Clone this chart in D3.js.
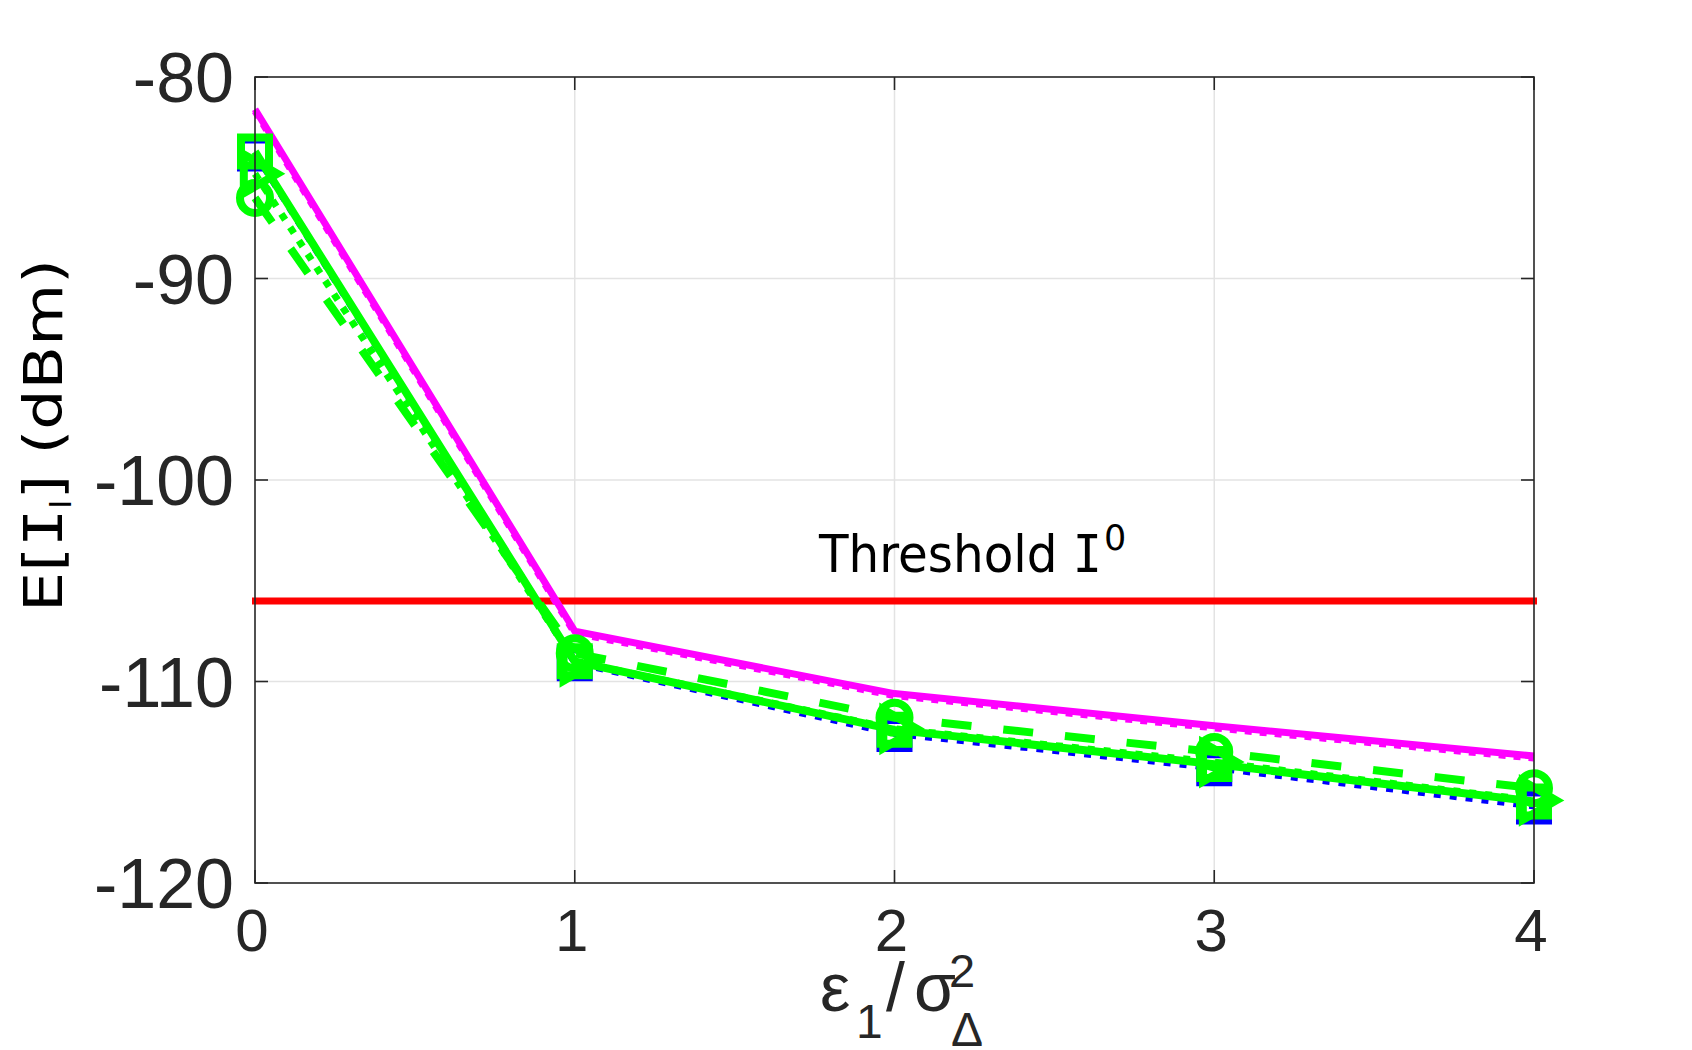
<!DOCTYPE html>
<html>
<head>
<meta charset="utf-8">
<script src="https://d3js.org/d3.v7.min.js"></script>
<style>
body { margin: 0; background: #fff; }
</style>
</head>
<body>
<svg id="chart" width="1692" height="1050"></svg>
<script>
// data
const xVals = [0, 1, 2, 3, 4];
const xTicks = [0, 1, 2, 3, 4];
const yTicks = [-120, -110, -100, -90, -80];
const threshold = -106;

const magentaSolid  = [-81.6, -107.5, -110.6, -112.2, -113.7];
const magentaDotted = [-81.7, -107.6, -110.7, -112.3, -113.8];
const blueDotted    = [-83.8, -109.1, -112.6, -114.3, -116.2];
const greenSolid    = [-83.7, -109.0, -112.4, -114.1, -115.95];
const greenDotted   = [-84.8, -109.0, -112.35, -114.0, -115.9];
const greenDashed   = [-86.0, -108.6, -111.8, -113.5, -115.3];

const svg = d3.select("#chart");
const pL = 255, pR = 1534, pT = 77, pB = 883;

const x = d3.scaleLinear().domain([0, 4]).range([pL, pR]);
const y = d3.scaleLinear().domain([-120, -80]).range([pB, pT]);

// grid
const grid = svg.append("g");
grid.selectAll("line.gx")
    .data(xTicks.slice(1, -1))
    .join("line")
    .attr("x1", d => x(d)).attr("x2", d => x(d))
    .attr("y1", pT).attr("y2", pB)
    .attr("stroke", "#e3e3e3").attr("stroke-width", 1.5);
grid.selectAll("line.gy")
    .data(yTicks.slice(1, -1))
    .join("line")
    .attr("y1", d => y(d)).attr("y2", d => y(d))
    .attr("x1", pL).attr("x2", pR)
    .attr("stroke", "#e3e3e3").attr("stroke-width", 1.5);

// threshold
svg.append("line")
   .attr("x1", x(0) - 3).attr("x2", x(4) + 3)
   .attr("y1", y(threshold)).attr("y2", y(threshold))
   .attr("stroke", "#ff0000").attr("stroke-width", 7);

const line = d3.line().x((d, i) => x(xVals[i])).y(d => y(d));

const series = [
  {v: magentaDotted, color: "#ff00ff", w: 7, dash: "7,8", marker: null},
  {v: magentaSolid,  color: "#ff00ff", w: 7, dash: null, marker: null},
  {v: blueDotted,    color: "#0000ff", w: 6, dash: "7,9", marker: "square"},
  {v: greenSolid,    color: "#00ff00", w: 8, dash: null, marker: "square"},
  {v: greenDotted,   color: "#00ff00", w: 7, dash: "7,9", marker: "triangle"},
  {v: greenDashed,   color: "#00ff00", w: 8, dash: "30,32", marker: "circle"}
];

const symbols = {
  square: d3.symbol().type(d3.symbolSquare).size(28 * 28),
  circle: d3.symbol().type(d3.symbolCircle).size(Math.PI * 15 * 15),
  triangle: d3.symbol().type(d3.symbolTriangle).size(650)
};

series.forEach(s => {
  svg.append("path")
     .datum(s.v)
     .attr("d", line)
     .attr("fill", "none")
     .attr("stroke", s.color)
     .attr("stroke-width", s.w)
     .attr("stroke-dasharray", s.dash);
  if (s.marker) {
    svg.append("g").selectAll("path")
       .data(s.v)
       .join("path")
       .attr("d", symbols[s.marker])
       .attr("transform", (d, i) => "translate(" + x(xVals[i]) + "," + y(d) + ")" + (s.marker === "triangle" ? " rotate(90)" : ""))
       .attr("fill", "none")
       .attr("stroke", s.color)
       .attr("stroke-width", 8);
  }
});

// box with inward ticks
const ax = svg.append("g").attr("stroke", "#262626").attr("stroke-width", 1.6).attr("fill", "none");
ax.append("rect").attr("x", pL).attr("y", pT).attr("width", pR - pL).attr("height", pB - pT);
const tl = 13;
xTicks.forEach(t => {
  ax.append("line").attr("x1", x(t)).attr("x2", x(t)).attr("y1", pB).attr("y2", pB - tl);
  ax.append("line").attr("x1", x(t)).attr("x2", x(t)).attr("y1", pT).attr("y2", pT + tl);
});
yTicks.forEach(t => {
  ax.append("line").attr("y1", y(t)).attr("y2", y(t)).attr("x1", pL).attr("x2", pL + tl);
  ax.append("line").attr("y1", y(t)).attr("y2", y(t)).attr("x1", pR).attr("x2", pR - tl);
});

// tick labels
svg.append("g").selectAll("text")
   .data(xTicks)
   .join("text")
   .attr("x", d => x(d) - 3).attr("y", 951)
   .attr("text-anchor", "middle")
   .attr("font-family", "Liberation Sans, Arial, sans-serif")
   .attr("font-size", 60).attr("fill", "#262626")
   .text(d => d);
svg.append("g").selectAll("text")
   .data(yTicks)
   .join("text")
   .attr("x", 234).attr("y", d => y(d) + 25)
   .attr("text-anchor", "end")
   .attr("font-family", "Liberation Sans, Arial, sans-serif")
   .attr("font-size", 70).attr("fill", "#262626")
   .text(d => d);

// y label
const yl = svg.append("text")
   .attr("transform", "translate(62,612) rotate(-90)")
   .attr("textLength", 353)
   .attr("lengthAdjust", "spacingAndGlyphs")
   .attr("font-family", "DejaVu Sans, Verdana, sans-serif")
   .attr("font-size", 54).attr("fill", "#000");
yl.append("tspan").text("E[");
yl.append("tspan").attr("font-family", "DejaVu Sans Mono, monospace").text("I");
yl.append("tspan").attr("font-size", 28).attr("dy", 9).text("l");
yl.append("tspan").attr("dy", -9).text("] (dBm)");

// x label
const xlStyle = sel => sel.attr("font-family", "Liberation Sans, Arial, sans-serif").attr("fill", "#262626");
const xl = svg.append("g");
xl.append("text").call(xlStyle).attr("x", 820).attr("y", 1011).attr("font-size", 68).text("ε");
xl.append("text").call(xlStyle).attr("x", 856).attr("y", 1038).attr("font-size", 48).text("1");
xl.append("text").call(xlStyle).attr("x", 886).attr("y", 1011).attr("font-size", 68).text("/");
xl.append("text").call(xlStyle).attr("x", 914).attr("y", 1011).attr("font-size", 68).text("σ");
xl.append("text").call(xlStyle).attr("x", 949).attr("y", 987).attr("font-size", 47).text("2");
xl.append("text").call(xlStyle).attr("x", 951).attr("y", 1046).attr("font-size", 48).text("Δ");

// threshold annotation
const th = svg.append("g")
   .attr("font-family", "DejaVu Sans, Verdana, sans-serif")
   .attr("fill", "#000");
const thMain = th.append("text")
   .attr("x", 819).attr("y", 572)
   .attr("font-size", 51)
   .attr("textLength", 283)
   .attr("lengthAdjust", "spacingAndGlyphs");
thMain.append("tspan").text("Threshold ");
thMain.append("tspan").attr("font-family", "DejaVu Sans Mono, monospace").text("I");
th.append("text").attr("x", 1104).attr("y", 550).attr("font-size", 35).text("0");
</script>
</body>
</html>
